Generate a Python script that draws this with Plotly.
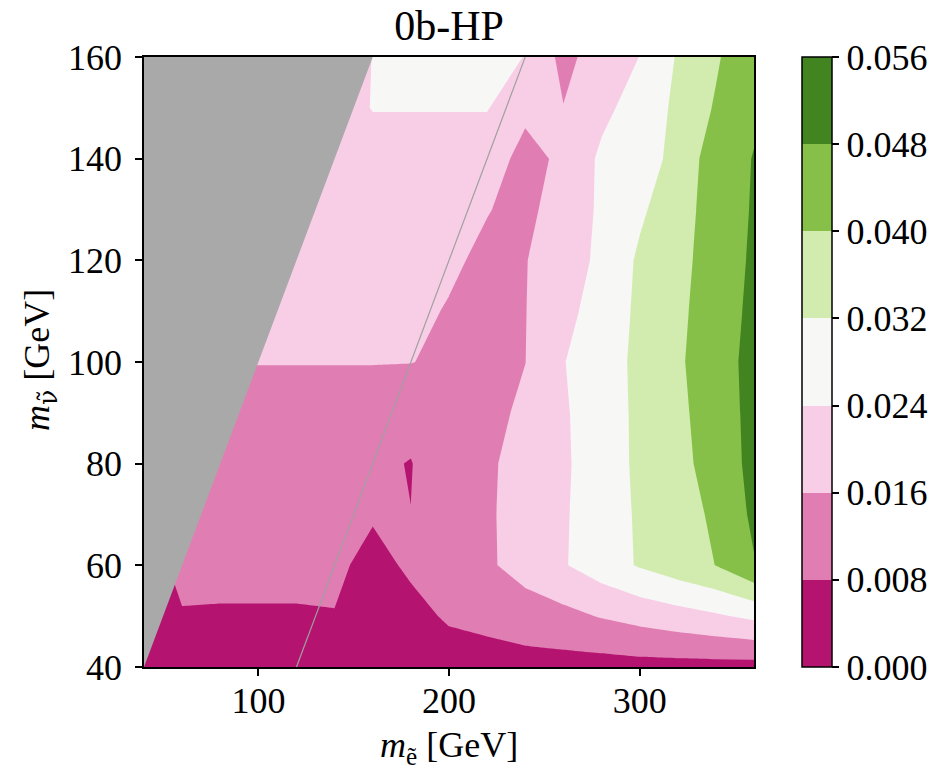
import plotly.graph_objects as go

# ---- data ----
m_e = [40, 60, 80, 100, 120, 140, 160, 180, 200, 220, 240, 260, 280, 300, 320, 340, 360]
m_nu = [40, 50, 60, 70, 80, 90, 100, 110, 120, 130, 140, 150, 160]

# efficiency values, one row per m_nu value (rows bottom -> top), columns follow m_e
eff_40 = [0.004, 0.0045, 0.0045, 0.0045, 0.0045, 0.005, 0.005, 0.005, 0.0056, 0.00425, 0.0051, 0.0050, 0.00486, 0.00533, 0.00538, 0.00535, 0.0051]
eff_50 = [0.006, 0.007, 0.007, 0.007, 0.007, 0.0078, 0.0065, 0.0065, 0.0086, 0.0105, 0.012, 0.0138, 0.0165, 0.0187, 0.0208, 0.023, 0.0256]
eff_60 = [0.001, 0.012, 0.011, 0.011, 0.011, 0.00907, 0.0064, 0.0088, 0.0115, 0.0148, 0.0192, 0.0234, 0.0281, 0.0327, 0.0364, 0.0401, 0.0475]
eff_70 = [0.010, 0.011, 0.0105, 0.0105, 0.0105, 0.0105, 0.0085, 0.00805, 0.0115, 0.015, 0.0191, 0.0232, 0.0281, 0.033, 0.0371, 0.0412, 0.0495]
eff_80 = [0.011, 0.0115, 0.0115, 0.0115, 0.0115, 0.0115, 0.0089, 0.0078, 0.0118, 0.0148, 0.0189, 0.0229, 0.028, 0.0335, 0.038, 0.0428, 0.0504]
eff_90 = [0.012, 0.0125, 0.013, 0.013, 0.013, 0.013, 0.013, 0.0098, 0.013, 0.013, 0.0179, 0.0231, 0.0283, 0.0335, 0.0385, 0.0434, 0.0506]
eff_100 = [0.014, 0.015, 0.0162, 0.0162, 0.0162, 0.0162, 0.0162, 0.0162, 0.0145, 0.0148, 0.0159, 0.0237, 0.0287, 0.0336, 0.039, 0.0441, 0.0507]
eff_110 = [0.015, 0.016, 0.017, 0.0177, 0.0177, 0.0177, 0.0177, 0.0177, 0.0155, 0.0145, 0.0158, 0.0216, 0.0275, 0.0334, 0.0385, 0.0437, 0.0499]
eff_120 = [0.016, 0.017, 0.0175, 0.018, 0.018, 0.018, 0.018, 0.018, 0.0172, 0.0145, 0.0157, 0.0203, 0.0256, 0.0332, 0.038, 0.0431, 0.0493]
eff_130 = [0.017, 0.0175, 0.018, 0.018, 0.018, 0.018, 0.018, 0.018, 0.0178, 0.0163, 0.014, 0.0197, 0.0251, 0.0307, 0.0369, 0.0433, 0.0487]
eff_140 = [0.018, 0.018, 0.018, 0.0183, 0.0183, 0.0183, 0.0183, 0.0183, 0.0183, 0.0183, 0.0145, 0.0169, 0.0255, 0.028, 0.0345, 0.0442, 0.0483]
eff_150 = [0.018, 0.018, 0.018, 0.018, 0.018, 0.018, 0.0245, 0.0245, 0.0245, 0.0245, 0.017, 0.0162, 0.0219, 0.02755, 0.0335, 0.0408, 0.0468]
eff_160 = [0.018, 0.018, 0.018, 0.018, 0.018, 0.018, 0.0242, 0.026, 0.027, 0.028, 0.0237, 0.0138, 0.0197, 0.0241, 0.0327, 0.039, 0.0465]

levels_start = 0.0
levels_end = 0.056
levels_step = 0.008
cbar_ticks = [0.000, 0.008, 0.016, 0.024, 0.032, 0.040, 0.048, 0.056]
cbar_labels = ["0.000", "0.008", "0.016", "0.024", "0.032", "0.040", "0.048", "0.056"]
x_ticks = [100, 200, 300]
y_ticks = [40, 60, 80, 100, 120, 140, 160]
delta_m_line = 80  # m_e - m_nu = 80 GeV reference line

z = [eff_40, eff_50, eff_60, eff_70, eff_80, eff_90, eff_100, eff_110,
     eff_120, eff_130, eff_140, eff_150, eff_160]

# PiYG discrete colours (7 bands)
band_colors = ["#B51370", "#E07EB3", "#F8CEE6", "#F7F7F6", "#D2ECB0", "#86C049", "#42841F"]
nb = len(band_colors)
colorscale = []
for k, c in enumerate(band_colors):
    colorscale.append([k / nb, c])
    colorscale.append([(k + 1) / nb, c])

FONT = "Liberation Serif"

fig = go.Figure()
fig.add_trace(go.Contour(
    x=m_e, y=m_nu, z=z,
    colorscale=colorscale,
    zmin=levels_start, zmax=levels_end + 1e-7,
    autocontour=False,
    contours=dict(start=levels_start, end=levels_end, size=levels_step, coloring="fill", showlines=False),
    line=dict(width=0, smoothing=0),
    colorbar=dict(
        thickness=30, thicknessmode="pixels",
        len=1, lenmode="fraction",
        x=(802 - 144) / 610, xanchor="left", xpad=0,
        y=0.5, yanchor="middle", ypad=0,
        outlinewidth=1.5, outlinecolor="black",
        ticks="outside", ticklen=7, tickwidth=1.5, tickcolor="black",
        tickvals=cbar_ticks, ticktext=cbar_labels,
        tickfont=dict(family=FONT, size=36, color="black"),
    ),
    hoverinfo="skip",
))

# excluded region m_nu > m_e
xmin, ymin, ymax = m_e[0], m_nu[0], m_nu[-1]
fig.add_trace(go.Scatter(
    x=[xmin, ymax, xmin, xmin], y=[ymin, ymax, ymax, ymin],
    mode="lines", fill="toself", fillcolor="#A9A9A9",
    line=dict(width=0, color="#A9A9A9"), showlegend=False, hoverinfo="skip",
))
# reference line m_nu = m_e - 80
fig.add_trace(go.Scatter(
    x=[ymin + delta_m_line, ymax + delta_m_line], y=[ymin, ymax],
    mode="lines", line=dict(color="#A0A0A0", width=1.2),
    showlegend=False, hoverinfo="skip",
))

axis_common = dict(
    showline=True, mirror=True, linecolor="black", linewidth=1.5,
    ticks="outside", ticklen=7, tickwidth=1.5, tickcolor="black",
    showgrid=False, zeroline=False,
    tickfont=dict(family=FONT, size=36, color="black"),
)

fig.update_layout(
    width=951, height=769,
    margin=dict(l=144, r=197, t=57, b=102),
    paper_bgcolor="white", plot_bgcolor="white",
    showlegend=False,
    title=dict(text="0b-HP", x=0.5, xref="paper", xanchor="center",
               y=1 - 25 / 769, yanchor="middle",
               font=dict(family=FONT, size=42, color="black")),
    xaxis=dict(range=[m_e[0], m_e[-1]], tickvals=x_ticks, ticklabelstandoff=-6, **axis_common),
    yaxis=dict(range=[m_nu[0], m_nu[-1]], tickvals=y_ticks, ticklabelstandoff=6, **axis_common),
    annotations=[
        dict(text="<i>m</i><sub>ẽ</sub> [GeV]", xref="paper", yref="paper",
             x=0.5, y=(667 - 747) / 610, xanchor="center", yanchor="middle",
             showarrow=False, font=dict(family=FONT, size=36, color="black")),
        dict(text="<i>m</i><sub><span style=\"font-family:DejaVu Serif\">ν̃</span></sub> [GeV]",
             xref="paper", yref="paper",
             x=(40 - 144) / 610, y=(667 - 360) / 610, xanchor="center", yanchor="middle",
             textangle=-90, showarrow=False, font=dict(family=FONT, size=36, color="black")),
    ],
)

fig.write_html("out.html", config={"displayModeBar": False},
               post_script="document.body.style.margin='0';")
